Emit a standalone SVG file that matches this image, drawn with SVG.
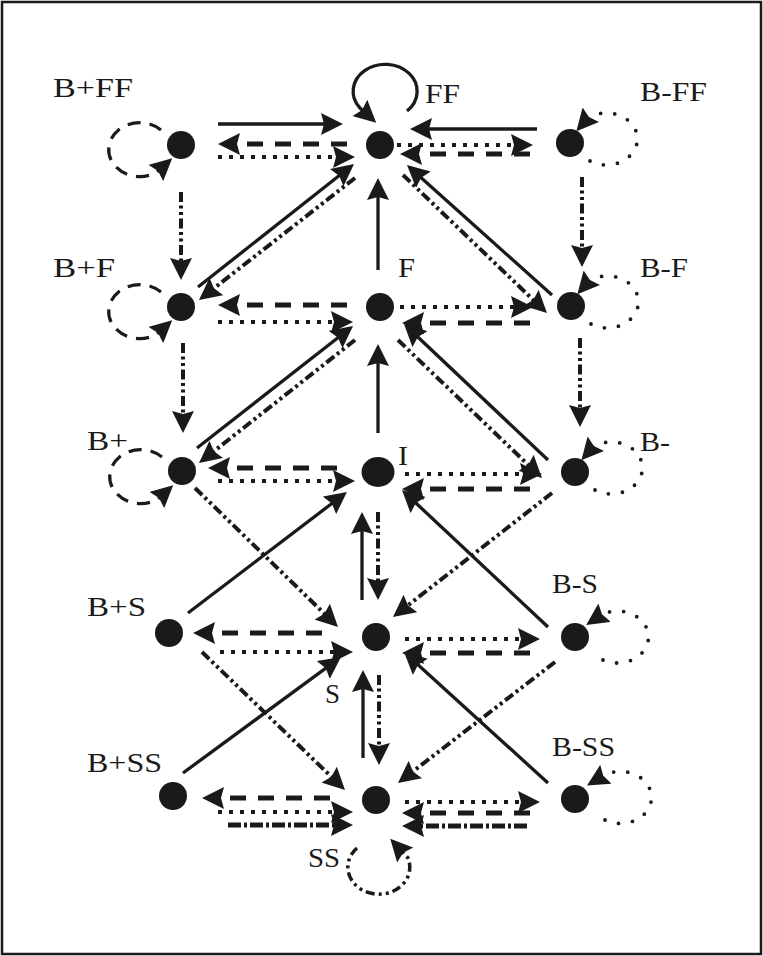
<svg xmlns="http://www.w3.org/2000/svg" width="763" height="956" viewBox="0 0 763 956">
<style>
.node{fill:#1a1a1a}
.lbl{font-family:"Liberation Serif","Times New Roman",serif;font-size:28px;fill:#1a1a1a}
.e{fill:none;stroke:#1a1a1a;marker-end:url(#ah)}
.solid{stroke-width:3.3}
.dash{stroke-width:5;stroke-dasharray:16 12}
.dot{stroke-width:4;stroke-dasharray:4 7}
.ddot{stroke-width:4;stroke-dasharray:10 3.5 3 3.5 3 3.5}
.dd{stroke-width:5;stroke-dasharray:13 3 3 3}
.ldash{stroke-width:3.2;stroke-dasharray:13 9}
.ldot{stroke-width:3.8;stroke-dasharray:0 14;stroke-linecap:round}
.lsolid{stroke-width:3.3}
.lddot{stroke-width:3.5;stroke-dasharray:9 4 3 4 3 4}
</style>
<defs>
<marker id="ah" markerUnits="userSpaceOnUse" viewBox="0 0 22 22" markerWidth="22" markerHeight="22" refX="15" refY="11" orient="auto">
<path d="M0,0 L22,11 L0,22 L3,11 Z" fill="#1a1a1a"/>
</marker>
</defs>
<rect x="2" y="2" width="759" height="952" fill="#fff" stroke="#1a1a1a" stroke-width="2.5"/>

<g id="connectors">
<!-- row FF -->
<line class="e solid" x1="218" y1="124" x2="336" y2="124"/>
<line class="e dash" x1="347" y1="144" x2="225" y2="144"/>
<line class="e dot" x1="218" y1="157" x2="348" y2="157"/>
<line class="e solid" x1="537" y1="129" x2="417" y2="129"/>
<line class="e dot" x1="397" y1="145" x2="526" y2="145"/>
<line class="e dash" x1="530" y1="154" x2="407" y2="154"/>
<!-- row F -->
<line class="e dash" x1="347" y1="305" x2="225" y2="305"/>
<line class="e dot" x1="218" y1="322" x2="346" y2="322"/>
<line class="e dot" x1="400" y1="307" x2="526" y2="307"/>
<line class="e dash" x1="530" y1="323" x2="409" y2="323"/>
<!-- row I -->
<line class="e dash" x1="337" y1="468" x2="215" y2="468"/>
<line class="e dot" x1="218" y1="481" x2="348" y2="481"/>
<line class="e dot" x1="405" y1="474" x2="535" y2="474"/>
<line class="e dash" x1="530" y1="489" x2="409" y2="489"/>
<!-- row S -->
<line class="e dash" x1="322" y1="633" x2="200" y2="633"/>
<line class="e dot" x1="220" y1="652" x2="346" y2="652"/>
<line class="e dot" x1="405" y1="639" x2="533" y2="639"/>
<line class="e dash" x1="530" y1="653" x2="409" y2="653"/>
<!-- row SS -->
<line class="e dash" x1="330" y1="798" x2="209" y2="798"/>
<line class="e dot" x1="218" y1="812" x2="346" y2="812"/>
<line class="e dd" x1="228" y1="825" x2="346" y2="825"/>
<line class="e dot" x1="405" y1="802" x2="533" y2="802"/>
<line class="e dash" x1="530" y1="813" x2="409" y2="813"/>
<line class="e dd" x1="527" y1="826" x2="409" y2="826"/>
<!-- verticals -->
<line class="e ddot" x1="181" y1="192" x2="181" y2="273"/>
<line class="e ddot" x1="183" y1="343" x2="183" y2="426"/>
<line class="e ddot" x1="582" y1="177" x2="582" y2="260"/>
<line class="e ddot" x1="580" y1="338" x2="580" y2="420"/>
<line class="e solid" x1="378" y1="270" x2="378" y2="185"/>
<line class="e solid" x1="378" y1="433" x2="378" y2="351"/>
<line class="e solid" x1="362" y1="600" x2="362" y2="519"/>
<line class="e ddot" x1="378" y1="512" x2="378" y2="593"/>
<line class="e solid" x1="363" y1="758" x2="363" y2="677"/>
<line class="e ddot" x1="379" y1="675" x2="379" y2="758"/>
<!-- diagonals -->
<line class="e solid" x1="198" y1="287" x2="348.5" y2="168.3"/>
<line class="e ddot" x1="355" y1="178" x2="204.5" y2="295.7"/>
<line class="e solid" x1="552" y1="295" x2="412.2" y2="169.7"/>
<line class="e ddot" x1="403" y1="175" x2="541.9" y2="308.2"/>
<line class="e solid" x1="197" y1="448" x2="347.5" y2="330.3"/>
<line class="e ddot" x1="355" y1="340" x2="204.5" y2="458.7"/>
<line class="e solid" x1="548" y1="460" x2="409.1" y2="328.8"/>
<line class="e ddot" x1="398" y1="340" x2="536.9" y2="473.2"/>
<line class="e solid" x1="188" y1="613" x2="341.4" y2="496.2"/>
<line class="e ddot" x1="195" y1="488" x2="333" y2="622.1"/>
<line class="e solid" x1="548" y1="627" x2="407.1" y2="494.8"/>
<line class="e ddot" x1="552" y1="493" x2="398.5" y2="612.7"/>
<line class="e solid" x1="183" y1="773" x2="335.4" y2="661.1"/>
<line class="e ddot" x1="202" y1="652" x2="340" y2="785.1"/>
<line class="e solid" x1="548" y1="783" x2="409.2" y2="656.7"/>
<line class="e ddot" x1="555" y1="662" x2="403.5" y2="778.7"/>
<!-- self loops -->
<path class="e lsolid" d="M407,111 A32,27 0 1 0 360,108 L371,118"/>
<path class="e ldash" d="M161,130 A31,27 0 1 0 157,172 L167,163"/>
<path class="e ldash" d="M161,292 A31,27 0 1 0 157,334 L167,325"/>
<path class="e ldash" d="M162,457 A31,27 0 1 0 158,499 L168,490"/>
<path class="e ldot" d="M590,161 A31,26 0 1 0 588,118 L581,126"/>
<path class="e ldot" d="M591,324 A31,26 0 1 0 589,281 L582,289"/>
<path class="e ldot" d="M595,490 A31,26 0 1 0 593,447 L586,455"/>
<path class="e ldot" d="M603,660 A31,26 0 1 0 601,615 L592,621"/>
<path class="e ldot" d="M605,820 A31,26 0 1 0 603,776 L593,782"/>
<path class="e lddot" d="M357,848 A31,27 0 1 0 408,858 L395,844"/>
</g>

<g id="n-BpFF"><circle class="node" cx="181" cy="145" r="14"/><text class="lbl" x="53" y="97" textLength="80" lengthAdjust="spacingAndGlyphs">B+FF</text></g>
<g id="n-FF"><circle class="node" cx="380" cy="145" r="14"/><text class="lbl" x="425" y="103" textLength="35" lengthAdjust="spacingAndGlyphs">FF</text></g>
<g id="n-BmFF"><circle class="node" cx="570" cy="143" r="14"/><text class="lbl" x="640" y="101" textLength="67" lengthAdjust="spacingAndGlyphs">B-FF</text></g>
<g id="n-BpF"><circle class="node" cx="181" cy="307" r="14"/><text class="lbl" x="53" y="277" textLength="62" lengthAdjust="spacingAndGlyphs">B+F</text></g>
<g id="n-F"><circle class="node" cx="380" cy="307" r="14"/><text class="lbl" x="398" y="277" textLength="17" lengthAdjust="spacingAndGlyphs">F</text></g>
<g id="n-BmF"><circle class="node" cx="571" cy="306" r="14"/><text class="lbl" x="640" y="277" textLength="48" lengthAdjust="spacingAndGlyphs">B-F</text></g>
<g id="n-Bp"><circle class="node" cx="182" cy="471" r="14"/><text class="lbl" x="87" y="450" textLength="41" lengthAdjust="spacingAndGlyphs">B+</text></g>
<g id="n-I"><ellipse class="node" cx="378" cy="472" rx="16.5" ry="15"/><text class="lbl" x="398" y="465" textLength="10" lengthAdjust="spacingAndGlyphs">I</text></g>
<g id="n-Bm"><circle class="node" cx="575" cy="472" r="14"/><text class="lbl" x="640" y="451" textLength="30" lengthAdjust="spacingAndGlyphs">B-</text></g>
<g id="n-BpS"><circle class="node" cx="169" cy="633" r="14"/><text class="lbl" x="87" y="616" textLength="59" lengthAdjust="spacingAndGlyphs">B+S</text></g>
<g id="n-S"><circle class="node" cx="376" cy="637" r="14"/><text class="lbl" x="325" y="703" textLength="15" lengthAdjust="spacingAndGlyphs">S</text></g>
<g id="n-BmS"><circle class="node" cx="575" cy="637" r="14"/><text class="lbl" x="552" y="593" textLength="46" lengthAdjust="spacingAndGlyphs">B-S</text></g>
<g id="n-BpSS"><circle class="node" cx="173" cy="796" r="14"/><text class="lbl" x="87" y="772" textLength="75" lengthAdjust="spacingAndGlyphs">B+SS</text></g>
<g id="n-SS"><circle class="node" cx="376" cy="800" r="14"/><text class="lbl" x="308" y="867" textLength="32" lengthAdjust="spacingAndGlyphs">SS</text></g>
<g id="n-BmSS"><circle class="node" cx="575" cy="799" r="14"/><text class="lbl" x="552" y="756" textLength="63" lengthAdjust="spacingAndGlyphs">B-SS</text></g>
</svg>
